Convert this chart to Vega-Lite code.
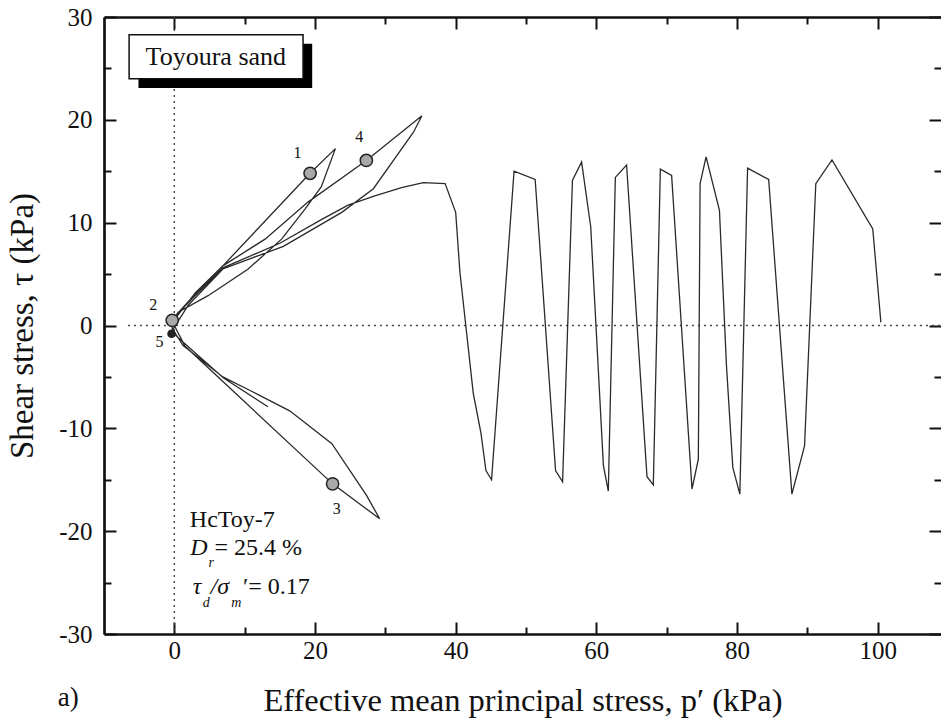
{
  "$schema": "https://vega.github.io/schema/vega-lite/v6.json",
  "width": 837,
  "height": 617,
  "autosize": {"type": "none"},
  "padding": {"left": 104, "top": 17, "right": 0, "bottom": 88},
  "background": "white",
  "config": {"view": {"stroke": null}, "font": "Liberation Serif", "text": {"font": "Liberation Serif", "color": "#111"},
    "axis": {"labelFont": "Liberation Serif", "titleFont": "Liberation Serif"}},
  "datasets": {
    "one": [{}],
    "path": [
      {"i":1,"p":100.45,"t":0.3},{"i":2,"p":99.3,"t":9.4},{"i":3,"p":93.5,"t":16.1},{"i":4,"p":91.2,"t":13.8},
      {"i":5,"p":89.6,"t":-11.7},{"i":6,"p":87.8,"t":-16.4},{"i":7,"p":84.5,"t":14.2},{"i":8,"p":81.5,"t":15.3},
      {"i":9,"p":80.4,"t":-16.4},{"i":10,"p":79.4,"t":-13.8},{"i":11,"p":78.5,"t":-3.9},{"i":12,"p":77.5,"t":11.2},
      {"i":13,"p":75.6,"t":16.4},{"i":14,"p":74.75,"t":13.8},{"i":15,"p":74.5,"t":-13.0},{"i":16,"p":73.6,"t":-15.9},
      {"i":17,"p":70.7,"t":14.6},{"i":18,"p":69.1,"t":15.2},{"i":19,"p":68.1,"t":-15.5},{"i":20,"p":67.2,"t":-14.7},
      {"i":21,"p":64.3,"t":15.6},{"i":22,"p":62.7,"t":14.4},{"i":23,"p":61.7,"t":-16.1},{"i":24,"p":61.0,"t":-13.6},
      {"i":25,"p":59.2,"t":9.6},{"i":26,"p":57.9,"t":15.9},{"i":27,"p":56.6,"t":14.1},{"i":28,"p":55.2,"t":-15.2},
      {"i":29,"p":54.2,"t":-14.1},{"i":30,"p":51.3,"t":14.2},{"i":31,"p":48.3,"t":15.0},{"i":32,"p":45.1,"t":-15.0},
      {"i":33,"p":44.3,"t":-14.1},{"i":34,"p":43.6,"t":-10.5},{"i":35,"p":42.5,"t":-6.6},{"i":36,"p":40.6,"t":5.2},
      {"i":37,"p":40.0,"t":11.0},{"i":38,"p":38.5,"t":13.8},{"i":39,"p":35.4,"t":13.9},{"i":40,"p":32.3,"t":13.4},
      {"i":41,"p":28.5,"t":12.6},{"i":42,"p":24.7,"t":11.7},{"i":43,"p":20.9,"t":10.3},{"i":44,"p":15.0,"t":8.0},
      {"i":45,"p":6.9,"t":5.6},{"i":46,"p":2.5,"t":2.6},{"i":47,"p":-0.3,"t":0.6},{"i":48,"p":3.0,"t":3.1},
      {"i":49,"p":6.9,"t":5.8},{"i":50,"p":19.3,"t":14.8},{"i":51,"p":22.9,"t":17.2},{"i":52,"p":20.9,"t":13.5},
      {"i":53,"p":18.6,"t":11.35},{"i":54,"p":15.25,"t":8.4},{"i":55,"p":10.5,"t":5.5},{"i":56,"p":4.8,"t":2.9},
      {"i":57,"p":0.55,"t":1.3},{"i":58,"p":-0.3,"t":0.4},{"i":59,"p":1.5,"t":-2.0},{"i":60,"p":22.5,"t":-15.4},
      {"i":61,"p":29.2,"t":-18.8},{"i":62,"p":27.3,"t":-16.5},{"i":63,"p":22.4,"t":-11.5},{"i":64,"p":16.4,"t":-8.3},
      {"i":65,"p":10.7,"t":-6.3},{"i":66,"p":6.9,"t":-5.0},{"i":67,"p":1.25,"t":-1.95},{"i":68,"p":-0.3,"t":-0.3},
      {"i":69,"p":-0.3,"t":0.3},{"i":70,"p":3.0,"t":3.2},{"i":71,"p":6.9,"t":5.8},{"i":72,"p":12.9,"t":8.4},
      {"i":73,"p":19.0,"t":12.0},{"i":74,"p":26.4,"t":15.6},{"i":75,"p":27.3,"t":16.05},{"i":76,"p":35.2,"t":20.4},
      {"i":77,"p":34.0,"t":18.8},{"i":78,"p":28.3,"t":13.3},{"i":79,"p":23.8,"t":11.0},{"i":80,"p":15.5,"t":7.7},
      {"i":81,"p":6.9,"t":5.5},{"i":82,"p":2.0,"t":2.0},{"i":83,"p":-0.4,"t":-0.6},{"i":84,"p":3.5,"t":-3.0},
      {"i":85,"p":7.0,"t":-5.1},{"i":86,"p":13.3,"t":-7.9}
    ],
    "markers": [
      {"n":"5","p":-0.4,"t":-0.8},
      {"n":"1","p":19.3,"t":14.8},
      {"n":"2","p":-0.3,"t":0.5},
      {"n":"3","p":22.5,"t":-15.4},
      {"n":"4","p":27.3,"t":16.05}
    ],
    "labels": [
      {"n":"1","p":17.5,"t":16.8},
      {"n":"2","p":-3.0,"t":2.0},
      {"n":"3","p":23.1,"t":-17.8},
      {"n":"4","p":26.3,"t":18.3},
      {"n":"5","p":-2.1,"t":-1.6}
    ]
  },
  "layer": [
    {
      "data": {"name": "one"},
      "mark": {"type": "rule", "strokeDash": [2, 4], "color": "#444", "strokeWidth": 1.4},
      "encoding": {
        "x": {"datum": 0, "type": "quantitative", "scale": {"domain": [-10, 109], "nice": false, "zero": false}, "axis": null}
      }
    },
    {
      "data": {"name": "one"},
      "mark": {"type": "rule", "strokeDash": [2, 4], "color": "#444", "strokeWidth": 1.4},
      "encoding": {
        "x": {"datum": -6.6, "type": "quantitative", "scale": {"domain": [-10, 109], "nice": false, "zero": false}, "axis": null},
        "x2": {"datum": 110},
        "y": {"datum": 0, "type": "quantitative", "scale": {"domain": [-30, 30], "nice": false, "zero": false}, "axis": null}
      }
    },
    {
      "data": {"name": "path"},
      "mark": {"type": "line", "color": "#2a2a2a", "strokeWidth": 1.3},
      "encoding": {
        "x": {"field": "p", "type": "quantitative", "scale": {"domain": [-10, 109], "nice": false, "zero": false},
          "axis": {"orient": "bottom", "values": [0,10,20,30,40,50,60,70,80,90,100],
            "labelExpr": "datum.value % 20 === 0 ? '' + datum.value : ''",
            "tickSize": {"condition": {"test": "datum.value % 20 === 0", "value": -12}, "value": -7},
            "tickWidth": 2, "tickColor": "#111", "domainWidth": 2.7, "domainColor": "#111", "grid": false,
            "labelFont": "Liberation Serif", "labelFontSize": 25, "labelColor": "#111", "labelPadding": 16,
            "title": "Effective mean principal stress, p′ (kPa)", "titleFont": "Liberation Serif", "titleFontSize": 32.5,
            "titleFontWeight": "normal", "titleColor": "#111", "titlePadding": 21}},
        "y": {"field": "t", "type": "quantitative", "scale": {"domain": [-30, 30], "nice": false, "zero": false},
          "axis": {"orient": "left", "values": [-30,-25,-20,-15,-10,-5,0,5,10,15,20,25,30],
            "labelExpr": "datum.value % 10 === 0 ? '' + datum.value : ''",
            "tickSize": {"condition": {"test": "datum.value % 10 === 0", "value": -12}, "value": -7},
            "tickWidth": 2, "tickColor": "#111", "domainWidth": 2.7, "domainColor": "#111", "grid": false,
            "labelFont": "Liberation Serif", "labelFontSize": 25, "labelColor": "#111", "labelPadding": 24,
            "title": "Shear stress, τ (kPa)", "titleFont": "Liberation Serif", "titleFontSize": 33,
            "titleFontWeight": "normal", "titleColor": "#111", "titlePadding": 19}},
        "order": {"field": "i", "type": "quantitative"}
      }
    },
    {
      "data": {"name": "markers"},
      "mark": {"type": "point", "filled": true, "stroke": "#222", "strokeWidth": 1.5, "opacity": 1},
      "encoding": {
        "x": {"field": "p", "type": "quantitative", "scale": {"domain": [-10, 109], "nice": false, "zero": false},
          "axis": {"orient": "top", "values": [0,10,20,30,40,50,60,70,80,90,100], "labels": false, "title": null,
            "tickSize": {"condition": {"test": "datum.value % 20 === 0", "value": -12}, "value": -7},
            "tickWidth": 2, "tickColor": "#111", "domainWidth": 2.7, "domainColor": "#111", "grid": false}},
        "y": {"field": "t", "type": "quantitative", "scale": {"domain": [-30, 30], "nice": false, "zero": false},
          "axis": {"orient": "right", "values": [-30,-25,-20,-15,-10,-5,0,5,10,15,20,25,30], "labels": false, "title": null,
            "domain": false,
            "tickSize": {"condition": {"test": "datum.value % 10 === 0", "value": -12}, "value": -7},
            "tickWidth": 2, "tickColor": "#111", "grid": false}},
        "color": {"condition": {"test": "datum.n === '5'", "value": "#222"}, "value": "#a9a9a9"},
        "size": {"condition": {"test": "datum.n === '5'", "value": 50}, "value": 150}
      }
    },
    {
      "data": {"name": "labels"},
      "mark": {"type": "text", "fontSize": 16, "align": "center", "baseline": "middle"},
      "encoding": {
        "x": {"field": "p", "type": "quantitative", "scale": {"domain": [-10, 109], "nice": false, "zero": false}, "axis": null},
        "y": {"field": "t", "type": "quantitative", "scale": {"domain": [-30, 30], "nice": false, "zero": false}, "axis": null},
        "text": {"field": "n"}
      }
    },
    {
      "data": {"name": "one"},
      "mark": {"type": "rect", "color": "#000"},
      "encoding": {
        "x": {"datum": -5.1, "type": "quantitative", "scale": {"domain": [-10, 109], "nice": false, "zero": false}, "axis": null},
        "x2": {"datum": 19.6},
        "y": {"datum": 27.4, "type": "quantitative", "scale": {"domain": [-30, 30], "nice": false, "zero": false}, "axis": null},
        "y2": {"datum": 23.1}
      }
    },
    {
      "data": {"name": "one"},
      "mark": {"type": "rect", "fill": "#fff", "stroke": "#111", "strokeWidth": 1.5},
      "encoding": {
        "x": {"datum": -6.43, "type": "quantitative", "scale": {"domain": [-10, 109], "nice": false, "zero": false}, "axis": null},
        "x2": {"datum": 18.3},
        "y": {"datum": 28.28, "type": "quantitative", "scale": {"domain": [-30, 30], "nice": false, "zero": false}, "axis": null},
        "y2": {"datum": 24.0}
      }
    },
    {
      "data": {"name": "one"},
      "mark": {"type": "text", "text": "Toyoura sand", "fontSize": 26, "align": "center", "baseline": "middle"},
      "encoding": {
        "x": {"datum": 5.9, "type": "quantitative", "scale": {"domain": [-10, 109], "nice": false, "zero": false}, "axis": null},
        "y": {"datum": 26.1, "type": "quantitative", "scale": {"domain": [-30, 30], "nice": false, "zero": false}, "axis": null}
      }
    },
    {
      "data": {"name": "one"},
      "mark": {"type": "text", "text": "HcToy-7", "fontSize": 24, "align": "left", "baseline": "alphabetic"},
      "encoding": {
        "x": {"datum": 2.2, "type": "quantitative", "scale": {"domain": [-10, 109], "nice": false, "zero": false}, "axis": null},
        "y": {"datum": -19.6, "type": "quantitative", "scale": {"domain": [-30, 30], "nice": false, "zero": false}, "axis": null}
      }
    },
    {
      "data": {"name": "one"},
      "mark": {"type": "text", "text": "D", "fontSize": 24, "fontStyle": "italic", "align": "left", "baseline": "alphabetic"},
      "encoding": {
        "x": {"datum": 2.28, "type": "quantitative", "scale": {"domain": [-10, 109], "nice": false, "zero": false}, "axis": null},
        "y": {"datum": -22.3, "type": "quantitative", "scale": {"domain": [-30, 30], "nice": false, "zero": false}, "axis": null}
      }
    },
    {
      "data": {"name": "one"},
      "mark": {"type": "text", "text": "r", "fontSize": 14, "fontStyle": "italic", "align": "left", "baseline": "alphabetic"},
      "encoding": {
        "x": {"datum": 4.85, "type": "quantitative", "scale": {"domain": [-10, 109], "nice": false, "zero": false}, "axis": null},
        "y": {"datum": -23.5, "type": "quantitative", "scale": {"domain": [-30, 30], "nice": false, "zero": false}, "axis": null}
      }
    },
    {
      "data": {"name": "one"},
      "mark": {"type": "text", "text": "= 25.4 %", "fontSize": 24, "align": "left", "baseline": "alphabetic"},
      "encoding": {
        "x": {"datum": 5.7, "type": "quantitative", "scale": {"domain": [-10, 109], "nice": false, "zero": false}, "axis": null},
        "y": {"datum": -22.3, "type": "quantitative", "scale": {"domain": [-30, 30], "nice": false, "zero": false}, "axis": null}
      }
    },
    {
      "data": {"name": "one"},
      "mark": {"type": "text", "text": "τ", "fontSize": 24, "fontStyle": "italic", "align": "left", "baseline": "alphabetic"},
      "encoding": {
        "x": {"datum": 2.63, "type": "quantitative", "scale": {"domain": [-10, 109], "nice": false, "zero": false}, "axis": null},
        "y": {"datum": -26.1, "type": "quantitative", "scale": {"domain": [-30, 30], "nice": false, "zero": false}, "axis": null}
      }
    },
    {
      "data": {"name": "one"},
      "mark": {"type": "text", "text": "d", "fontSize": 14, "fontStyle": "italic", "align": "left", "baseline": "alphabetic"},
      "encoding": {
        "x": {"datum": 4.05, "type": "quantitative", "scale": {"domain": [-10, 109], "nice": false, "zero": false}, "axis": null},
        "y": {"datum": -27.4, "type": "quantitative", "scale": {"domain": [-30, 30], "nice": false, "zero": false}, "axis": null}
      }
    },
    {
      "data": {"name": "one"},
      "mark": {"type": "text", "text": "/σ", "fontSize": 24, "fontStyle": "italic", "align": "left", "baseline": "alphabetic"},
      "encoding": {
        "x": {"datum": 5.15, "type": "quantitative", "scale": {"domain": [-10, 109], "nice": false, "zero": false}, "axis": null},
        "y": {"datum": -26.1, "type": "quantitative", "scale": {"domain": [-30, 30], "nice": false, "zero": false}, "axis": null}
      }
    },
    {
      "data": {"name": "one"},
      "mark": {"type": "text", "text": "m", "fontSize": 14, "fontStyle": "italic", "align": "left", "baseline": "alphabetic"},
      "encoding": {
        "x": {"datum": 8.1, "type": "quantitative", "scale": {"domain": [-10, 109], "nice": false, "zero": false}, "axis": null},
        "y": {"datum": -27.4, "type": "quantitative", "scale": {"domain": [-30, 30], "nice": false, "zero": false}, "axis": null}
      }
    },
    {
      "data": {"name": "one"},
      "mark": {"type": "text", "text": "′= 0.17", "fontSize": 24, "align": "left", "baseline": "alphabetic"},
      "encoding": {
        "x": {"datum": 9.75, "type": "quantitative", "scale": {"domain": [-10, 109], "nice": false, "zero": false}, "axis": null},
        "y": {"datum": -26.1, "type": "quantitative", "scale": {"domain": [-30, 30], "nice": false, "zero": false}, "axis": null}
      }
    },
    {
      "data": {"name": "one"},
      "mark": {"type": "text", "text": "a)", "fontSize": 27, "align": "center", "baseline": "alphabetic"},
      "encoding": {
        "x": {"datum": -15.1, "type": "quantitative", "scale": {"domain": [-10, 109], "nice": false, "zero": false}, "axis": null},
        "y": {"datum": -37, "type": "quantitative", "scale": {"domain": [-30, 30], "nice": false, "zero": false}, "axis": null}
      }
    }
  ],
  "resolve": {"axis": {"x": "independent", "y": "independent"}}
}
